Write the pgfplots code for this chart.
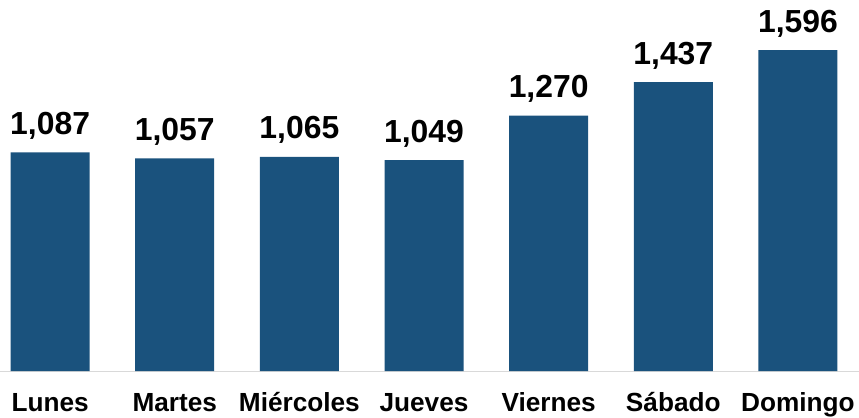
\documentclass[border=0pt]{standalone}
\usepackage{pgfplots}
\pgfplotsset{compat=1.18}
\usepackage{fontspec}
\setmainfont{Liberation Sans}
\definecolor{barblue}{RGB}{26,82,125}
\definecolor{baseline}{RGB}{217,217,217}
\begin{document}
\begin{tikzpicture}
  \begin{axis}[
      scale only axis,
      width=859bp, height=371bp,
      xmin=-0.402, xmax=6.49,
      ymin=0, ymax=1845,
      enlargelimits=false,
      clip=false,
      axis y line=none,
      axis x line*=bottom,
      x axis line style={draw=baseline, line width=1bp, -},
      xtick={0,...,6},
      xticklabels={Lunes,Martes,Miércoles,Jueves,Viernes,Sábado,Domingo},
      major tick length=0pt,
      xtick style={draw=none},
      xticklabel style={font=\fontsize{26.3}{26.3}\selectfont\bfseries, anchor=base, yshift=-40bp},
      ybar,
      bar width=79bp,
      nodes near coords={\pgfmathprintnumber[assume math mode=true,1000 sep={,}]{\pgfplotspointmeta}},
      every node near coord/.append style={font=\fontsize{32}{32}\selectfont\bfseries, anchor=base, yshift=18bp},
    ]
    \addplot[fill=barblue, draw=none] coordinates {
      (0,1087) (1,1057) (2,1065) (3,1049) (4,1270) (5,1437) (6,1596)
    };
  \end{axis}
  \pgfresetboundingbox
  \path[use as bounding box] (0,-47bp) rectangle (859bp,371bp);
\end{tikzpicture}
\end{document}
